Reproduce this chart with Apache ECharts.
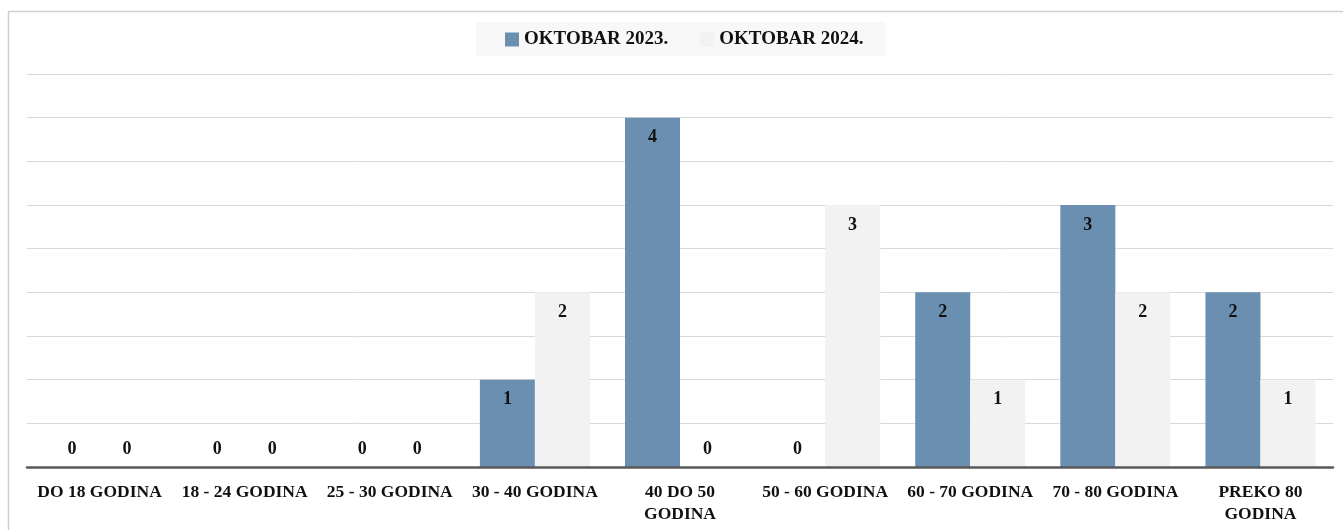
<!DOCTYPE html>
<html>
<head>
<meta charset="utf-8">
<script src="https://cdn.jsdelivr.net/npm/echarts@6/dist/echarts.min.js"></script>
<style>
  html, body { margin: 0; padding: 0; background: #fff; }
  #main { width: 1343px; height: 530px; }
</style>
</head>
<body>
<div id="main"></div>
<script>
// podaci
const categories = ['DO 18 GODINA', '18 - 24 GODINA', '25 - 30 GODINA', '30 - 40 GODINA',
  '40 DO 50\nGODINA', '50 - 60 GODINA', '60 - 70 GODINA', '70 - 80 GODINA', 'PREKO 80\nGODINA']
const values2023 = [0, 0, 0, 1, 4, 0, 2, 3, 2]
const values2024 = [0, 0, 0, 2, 0, 3, 1, 2, 1]
const seriesNames = ['OKTOBAR 2023.', 'OKTOBAR 2024.']

const font = "'Liberation Serif', 'DejaVu Serif', serif"

function withLabels(values) {
    return values.map(v => ({
        value: v,
        label: v === 0
            ? { position: 'top', distance: 9 }
            : { position: 'insideTop', distance: 11 }
    }))
}

const myChart = echarts.init(document.getElementById('main'))

const labelStyle = {
    show: true,
    color: '#111',
    fontFamily: font,
    fontWeight: 'bold',
    fontSize: 18
}

myChart.setOption({
    animation: false,
    graphic: [{
        type: 'rect',
        shape: { x: 8.5, y: 11.5, width: 1400, height: 600 },
        style: { fill: 'none', stroke: '#d0d0d0', lineWidth: 1.5 },
        silent: true
    }],
    legend: {
        left: 476,
        top: 22,
        padding: [8, 22, 7, 29],
        backgroundColor: '#f8f8f8',
        itemGap: 32,
        itemWidth: 14,
        itemHeight: 14,
        icon: 'rect',
        textStyle: {
            fontFamily: font,
            fontWeight: 'bold',
            fontSize: 19,
            color: '#111'
        },
        data: seriesNames
    },
    grid: {
        left: 27,
        right: 10,
        top: 74,
        bottom: 63
    },
    xAxis: {
        type: 'category',
        data: categories,
        z: 5,
        axisLine: { lineStyle: { color: '#595959', width: 2.5 } },
        axisTick: { show: false },
        axisLabel: {
            interval: 0,
            margin: 14,
            color: '#111',
            fontFamily: font,
            fontWeight: 'bold',
            fontSize: 17.5,
            lineHeight: 22
        }
    },
    yAxis: {
        type: 'value',
        min: 0,
        max: 4.5,
        interval: 0.5,
        axisLabel: { show: false },
        axisLine: { show: false },
        axisTick: { show: false },
        splitLine: { lineStyle: { color: '#d9d9d9', width: 1 } }
    },
    series: [{
        name: seriesNames[0],
        type: 'bar',
        barWidth: 55,
        barGap: 0,
        itemStyle: { color: '#6a8fb0' },
        label: labelStyle,
        data: withLabels(values2023)
    }, {
        name: seriesNames[1],
        type: 'bar',
        barWidth: 55,
        barGap: 0,
        itemStyle: { color: '#f2f2f2' },
        label: labelStyle,
        data: withLabels(values2024)
    }]
})
</script>
</body>
</html>
